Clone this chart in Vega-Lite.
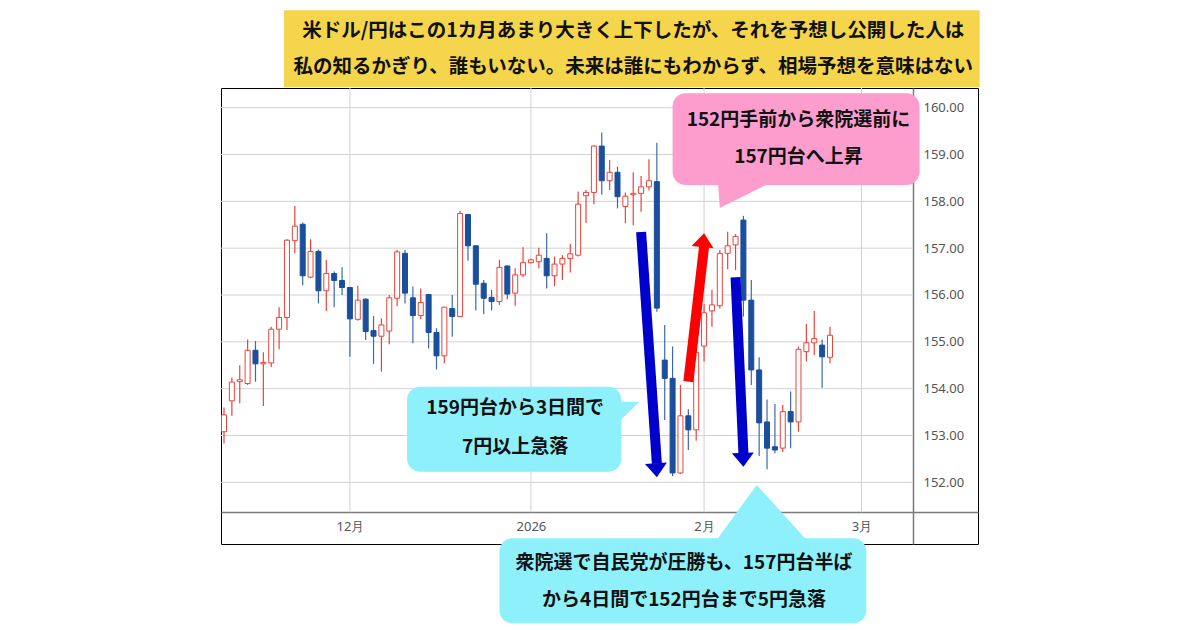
{
  "$schema": "https://vega.github.io/schema/vega-lite/v6.json",
  "width": 757,
  "height": 456,
  "autosize": {"type": "none"},
  "padding": {"left": 221, "top": 88, "right": 222, "bottom": 86},
  "background": "#ffffff",
  "config": {"view": {"stroke": "#000000", "strokeWidth": 1}},
  "datasets": {
    "candles": [
      {"date": "2025-11-07", "open": 153.08, "high": 153.60, "low": 152.83, "close": 153.44},
      {"date": "2025-11-10", "open": 153.74, "high": 154.24, "low": 153.42, "close": 154.14},
      {"date": "2025-11-11", "open": 154.15, "high": 154.50, "low": 153.69, "close": 154.19},
      {"date": "2025-11-12", "open": 154.11, "high": 155.05, "low": 154.08, "close": 154.82},
      {"date": "2025-11-13", "open": 154.82, "high": 155.02, "low": 154.15, "close": 154.53},
      {"date": "2025-11-14", "open": 154.53, "high": 154.78, "low": 153.63, "close": 154.56},
      {"date": "2025-11-17", "open": 154.55, "high": 155.32, "low": 154.46, "close": 155.27},
      {"date": "2025-11-18", "open": 155.27, "high": 155.74, "low": 154.84, "close": 155.52},
      {"date": "2025-11-19", "open": 155.52, "high": 157.19, "low": 155.25, "close": 157.17},
      {"date": "2025-11-20", "open": 157.16, "high": 157.90, "low": 156.89, "close": 157.47},
      {"date": "2025-11-21", "open": 157.51, "high": 157.55, "low": 156.21, "close": 156.41},
      {"date": "2025-11-24", "open": 156.38, "high": 157.19, "low": 156.36, "close": 156.93},
      {"date": "2025-11-25", "open": 156.93, "high": 156.97, "low": 155.82, "close": 156.09},
      {"date": "2025-11-26", "open": 156.09, "high": 156.75, "low": 155.66, "close": 156.46},
      {"date": "2025-11-27", "open": 156.46, "high": 156.50, "low": 155.74, "close": 156.31},
      {"date": "2025-11-28", "open": 156.31, "high": 156.59, "low": 156.00, "close": 156.16},
      {"date": "2025-12-01", "open": 156.16, "high": 156.17, "low": 154.68, "close": 155.49},
      {"date": "2025-12-02", "open": 155.48, "high": 156.20, "low": 155.45, "close": 155.89},
      {"date": "2025-12-03", "open": 155.91, "high": 155.93, "low": 155.04, "close": 155.22},
      {"date": "2025-12-04", "open": 155.24, "high": 155.55, "low": 154.53, "close": 155.12},
      {"date": "2025-12-05", "open": 155.12, "high": 155.50, "low": 154.36, "close": 155.36},
      {"date": "2025-12-08", "open": 155.23, "high": 156.00, "low": 154.95, "close": 155.94},
      {"date": "2025-12-09", "open": 155.93, "high": 156.96, "low": 155.76, "close": 156.92},
      {"date": "2025-12-10", "open": 156.89, "high": 156.96, "low": 155.82, "close": 156.04},
      {"date": "2025-12-11", "open": 155.94, "high": 156.18, "low": 154.97, "close": 155.56},
      {"date": "2025-12-12", "open": 155.56, "high": 156.14, "low": 155.48, "close": 155.84},
      {"date": "2025-12-15", "open": 156.01, "high": 156.02, "low": 154.86, "close": 155.20},
      {"date": "2025-12-16", "open": 155.20, "high": 155.29, "low": 154.41, "close": 154.70},
      {"date": "2025-12-17", "open": 154.70, "high": 155.75, "low": 154.54, "close": 155.74},
      {"date": "2025-12-18", "open": 155.71, "high": 156.00, "low": 155.11, "close": 155.54},
      {"date": "2025-12-19", "open": 155.54, "high": 157.80, "low": 155.53, "close": 157.74},
      {"date": "2025-12-22", "open": 157.72, "high": 157.73, "low": 156.73, "close": 157.05},
      {"date": "2025-12-23", "open": 157.05, "high": 157.06, "low": 155.67, "close": 156.23},
      {"date": "2025-12-24", "open": 156.25, "high": 156.32, "low": 155.59, "close": 155.93},
      {"date": "2025-12-25", "open": 155.95, "high": 156.11, "low": 155.67, "close": 155.86},
      {"date": "2025-12-26", "open": 155.86, "high": 156.75, "low": 155.79, "close": 156.59},
      {"date": "2025-12-29", "open": 156.62, "high": 156.63, "low": 155.91, "close": 156.02},
      {"date": "2025-12-30", "open": 156.04, "high": 156.57, "low": 155.77, "close": 156.43},
      {"date": "2025-12-31", "open": 156.43, "high": 157.02, "low": 156.38, "close": 156.69},
      {"date": "2026-01-01", "open": 156.69, "high": 156.78, "low": 156.68, "close": 156.75},
      {"date": "2026-01-02", "open": 156.71, "high": 157.01, "low": 156.57, "close": 156.85},
      {"date": "2026-01-05", "open": 156.78, "high": 157.32, "low": 156.14, "close": 156.41},
      {"date": "2026-01-06", "open": 156.41, "high": 156.82, "low": 156.19, "close": 156.66},
      {"date": "2026-01-07", "open": 156.66, "high": 156.85, "low": 156.32, "close": 156.78},
      {"date": "2026-01-08", "open": 156.78, "high": 157.09, "low": 156.48, "close": 156.88},
      {"date": "2026-01-09", "open": 156.85, "high": 158.21, "low": 156.82, "close": 157.94},
      {"date": "2026-01-12", "open": 158.12, "high": 158.24, "low": 157.54, "close": 158.19},
      {"date": "2026-01-13", "open": 158.19, "high": 159.20, "low": 157.94, "close": 159.18},
      {"date": "2026-01-14", "open": 159.18, "high": 159.47, "low": 158.14, "close": 158.44},
      {"date": "2026-01-15", "open": 158.44, "high": 158.88, "low": 158.24, "close": 158.62},
      {"date": "2026-01-16", "open": 158.62, "high": 158.74, "low": 157.85, "close": 158.10},
      {"date": "2026-01-19", "open": 157.89, "high": 158.19, "low": 157.53, "close": 158.11},
      {"date": "2026-01-20", "open": 158.14, "high": 158.62, "low": 157.49, "close": 158.17},
      {"date": "2026-01-21", "open": 158.17, "high": 158.54, "low": 157.78, "close": 158.31},
      {"date": "2026-01-22", "open": 158.31, "high": 158.90, "low": 158.23, "close": 158.44},
      {"date": "2026-01-23", "open": 158.42, "high": 159.25, "low": 155.64, "close": 155.72},
      {"date": "2026-01-26", "open": 154.61, "high": 155.36, "low": 153.33, "close": 154.22},
      {"date": "2026-01-27", "open": 154.22, "high": 154.90, "low": 152.13, "close": 152.20},
      {"date": "2026-01-28", "open": 152.20, "high": 154.08, "low": 152.18, "close": 153.42},
      {"date": "2026-01-29", "open": 153.42, "high": 153.56, "low": 152.69, "close": 153.12},
      {"date": "2026-01-30", "open": 153.12, "high": 154.79, "low": 152.89, "close": 154.77},
      {"date": "2026-02-02", "open": 154.91, "high": 155.81, "low": 154.58, "close": 155.62},
      {"date": "2026-02-03", "open": 155.66, "high": 156.11, "low": 155.32, "close": 155.79},
      {"date": "2026-02-04", "open": 155.77, "high": 156.96, "low": 155.71, "close": 156.89},
      {"date": "2026-02-05", "open": 156.89, "high": 157.35, "low": 156.55, "close": 157.05},
      {"date": "2026-02-06", "open": 157.07, "high": 157.30, "low": 156.53, "close": 157.25},
      {"date": "2026-02-09", "open": 157.60, "high": 157.69, "low": 155.54, "close": 155.89},
      {"date": "2026-02-10", "open": 155.89, "high": 156.32, "low": 154.08, "close": 154.40},
      {"date": "2026-02-11", "open": 154.40, "high": 154.67, "low": 152.56, "close": 153.27},
      {"date": "2026-02-12", "open": 153.29, "high": 153.77, "low": 152.28, "close": 152.73},
      {"date": "2026-02-13", "open": 152.76, "high": 153.67, "low": 152.62, "close": 152.69},
      {"date": "2026-02-16", "open": 152.73, "high": 153.65, "low": 152.65, "close": 153.51},
      {"date": "2026-02-17", "open": 153.51, "high": 153.94, "low": 152.73, "close": 153.29},
      {"date": "2026-02-18", "open": 153.29, "high": 154.90, "low": 153.08, "close": 154.84},
      {"date": "2026-02-19", "open": 154.79, "high": 155.38, "low": 154.58, "close": 154.98},
      {"date": "2026-02-20", "open": 154.98, "high": 155.66, "low": 154.72, "close": 155.07},
      {"date": "2026-02-23", "open": 154.93, "high": 155.05, "low": 154.02, "close": 154.68},
      {"date": "2026-02-24", "open": 154.67, "high": 155.32, "low": 154.54, "close": 155.14}
    ],
    "months": [
      {"date": "2025-12-01"}, {"date": "2026-01-01"}, {"date": "2026-02-02"}, {"date": "2026-03-02"}
    ],
    "levels": [
      {"level": 152}, {"level": 153}, {"level": 154}, {"level": 155}, {"level": 156},
      {"level": 157}, {"level": 158}, {"level": 159}, {"level": 160}
    ],
    "titleBox": [{"d1": "2025-11-19", "d2": "2026-03-20", "p1": 162.08, "p2": 160.44}],
    "titleText": [
      {"date": "2026-01-20", "price": 161.637, "label": "米ドル/円はこの1カ月あまり大きく上下したが、それを予想し公開した人は"},
      {"date": "2026-01-20", "price": 160.868, "label": "私の知るかぎり、誰もいない。未来は誰にもわからず、相場予想を意味はない"}
    ],
    "pinkBox": [{"d1": "2026-01-27", "d2": "2026-03-11", "p1": 160.307, "p2": 158.349}],
    "pinkTail": [{"date": "2026-02-04", "price": 157.857}],
    "pinkText": [
      {"date": "2026-02-18", "price": 159.734, "label": "152円手前から衆院選前に"},
      {"date": "2026-02-18", "price": 158.953, "label": "157円台へ上昇"}
    ],
    "leftBox": [{"d1": "2025-12-10", "d2": "2026-01-19", "p1": 154.042, "p2": 152.227}],
    "leftTail": [{"date": "2026-01-20", "price": 153.721}],
    "leftText": [
      {"date": "2025-12-30", "price": 153.58, "label": "159円台から3日間で"},
      {"date": "2025-12-30", "price": 152.76, "label": "7円以上急落"}
    ],
    "bottomBox": [{"d1": "2025-12-26", "d2": "2026-03-03", "p1": 150.805, "p2": 148.99}],
    "bottomTail": [{"date": "2026-02-11", "price": 151.943}],
    "bottomText": [
      {"date": "2026-01-28", "price": 150.27, "label": "衆院選で自民党が圧勝も、157円台半ば"},
      {"date": "2026-01-28", "price": 149.487, "label": "から4日間で152円台まで5円急落"}
    ],
    "arrows": [
      {"d1": "2026-01-21", "p1": 157.345, "d2": "2026-01-23", "p2": 152.40, "dir": "down"},
      {"d1": "2026-01-29", "p1": 154.15, "d2": "2026-02-02", "p2": 157.03, "dir": "up"},
      {"d1": "2026-02-06", "p1": 156.38, "d2": "2026-02-09", "p2": 152.62, "dir": "down"}
    ],
    "head1": [{"date": "2026-01-23", "price": 152.11}],
    "head2": [{"date": "2026-02-02", "price": 157.32}],
    "head3": [{"date": "2026-02-09", "price": 152.33}]
  },
  "layer": [
    {
      "data": {"name": "months"},
      "mark": {"type": "rule", "color": "#d2d2d2", "strokeWidth": 1},
      "encoding": {
        "x": {
          "field": "date", "type": "ordinal", "title": null,
          "scale": {
            "type": "point",
            "domain": ["2025-11-07","2025-11-10","2025-11-11","2025-11-12","2025-11-13","2025-11-14","2025-11-17","2025-11-18","2025-11-19","2025-11-20","2025-11-21","2025-11-24","2025-11-25","2025-11-26","2025-11-27","2025-11-28",
              "2025-12-01","2025-12-02","2025-12-03","2025-12-04","2025-12-05","2025-12-08","2025-12-09","2025-12-10","2025-12-11","2025-12-12","2025-12-15","2025-12-16","2025-12-17","2025-12-18","2025-12-19","2025-12-22","2025-12-23","2025-12-24","2025-12-25","2025-12-26","2025-12-29","2025-12-30","2025-12-31",
              "2026-01-01","2026-01-02","2026-01-05","2026-01-06","2026-01-07","2026-01-08","2026-01-09","2026-01-12","2026-01-13","2026-01-14","2026-01-15","2026-01-16","2026-01-19","2026-01-20","2026-01-21","2026-01-22","2026-01-23","2026-01-26","2026-01-27","2026-01-28","2026-01-29","2026-01-30",
              "2026-02-02","2026-02-03","2026-02-04","2026-02-05","2026-02-06","2026-02-09","2026-02-10","2026-02-11","2026-02-12","2026-02-13","2026-02-16","2026-02-17","2026-02-18","2026-02-19","2026-02-20","2026-02-23","2026-02-24","2026-02-25","2026-02-26","2026-02-27",
              "2026-03-02","2026-03-03","2026-03-04","2026-03-05","2026-03-06","2026-03-09","2026-03-10","2026-03-11","2026-03-12","2026-03-13","2026-03-16","2026-03-17","2026-03-18","2026-03-19","2026-03-20"],
            "padding": 0.594,
            "align": 0.321
          },
          "axis": {
            "orient": "bottom", "offset": -32, "title": null,
            "values": ["2025-12-01", "2026-01-01", "2026-02-02", "2026-03-02"],
            "labelExpr": "datum.value == '2026-01-01' ? '2026' : (datum.value == '2025-12-01' ? '12月' : (datum.value == '2026-02-02' ? '2月' : '3月'))",
            "ticks": false, "grid": false,
            "domainColor": "#7a7a7a", "domainWidth": 1.5,
            "labelColor": "#555555", "labelFont": "Noto Sans", "labelFontSize": 13,
            "labelPadding": 8, "labelAngle": 0
          }
        },
        "y": {
          "datum": 160.42, "type": "quantitative", "title": null,
          "scale": {"domain": [150.683, 160.42], "nice": false, "zero": false},
          "axis": {
            "orient": "right", "offset": -65, "title": null,
            "values": [152, 153, 154, 155, 156, 157, 158, 159, 160],
            "format": ".2f", "ticks": false, "grid": false,
            "domainColor": "#7a7a7a", "domainWidth": 1.5,
            "labelColor": "#555555", "labelFont": "Noto Sans", "labelFontSize": 13,
            "labelPadding": 10
          }
        },
        "y2": {"datum": 151.36}
      }
    },
    {
      "data": {"name": "levels"},
      "mark": {"type": "rule", "color": "#d2d2d2", "strokeWidth": 1, "xOffset": -3, "x2Offset": 4},
      "encoding": {
        "y": {"field": "level", "type": "quantitative", "title": null},
        "x": {"datum": "2025-11-07", "type": "ordinal", "title": null},
        "x2": {"datum": "2026-03-10"}
      }
    },
    {
      "data": {"name": "candles"},
      "mark": {"type": "rule", "strokeWidth": 1.2},
      "encoding": {
        "x": {"field": "date", "type": "ordinal", "title": null},
        "y": {"field": "low", "type": "quantitative", "title": null},
        "y2": {"field": "high"},
        "color": {"condition": {"test": "datum.close >= datum.open", "value": "#e8443a"}, "value": "#3c6aa8"}
      }
    },
    {
      "data": {"name": "candles"},
      "mark": {"type": "bar", "size": 5, "strokeWidth": 1},
      "encoding": {
        "x": {"field": "date", "type": "ordinal", "title": null},
        "y": {"field": "open", "type": "quantitative", "title": null},
        "y2": {"field": "close"},
        "fill": {"condition": {"test": "datum.close >= datum.open", "value": "#ffffff"}, "value": "#1b4f9c"},
        "stroke": {"condition": {"test": "datum.close >= datum.open", "value": "#e8443a"}, "value": "#1b4f9c"}
      }
    },
    {
      "data": {"name": "titleBox"},
      "mark": {"type": "rect", "color": "#f5d54b", "xOffset": -3, "x2Offset": 8},
      "encoding": {
        "x": {"field": "d1", "type": "ordinal", "title": null},
        "x2": {"field": "d2"},
        "y": {"field": "p1", "type": "quantitative", "title": null},
        "y2": {"field": "p2"}
      }
    },
    {
      "data": {"name": "pinkBox"},
      "mark": {"type": "rect", "color": "#fd9dce", "cornerRadius": 13, "x2Offset": 3},
      "encoding": {
        "x": {"field": "d1", "type": "ordinal", "title": null},
        "x2": {"field": "d2"},
        "y": {"field": "p1", "type": "quantitative", "title": null},
        "y2": {"field": "p2"}
      }
    },
    {
      "data": {"name": "pinkTail"},
      "mark": {"type": "point", "shape": "M0,0L-0.036,-0.5L1.004,-0.5Z", "size": 10000, "filled": true, "color": "#fd9dce", "opacity": 1, "strokeWidth": 0},
      "encoding": {
        "x": {"field": "date", "type": "ordinal", "title": null},
        "y": {"field": "price", "type": "quantitative", "title": null}
      }
    },
    {
      "data": {"name": "leftBox"},
      "mark": {"type": "rect", "color": "#8ef0fb", "cornerRadius": 13, "xOffset": 2, "x2Offset": -4},
      "encoding": {
        "x": {"field": "d1", "type": "ordinal", "title": null},
        "x2": {"field": "d2"},
        "y": {"field": "p1", "type": "quantitative", "title": null},
        "y2": {"field": "p2"}
      }
    },
    {
      "data": {"name": "leftTail"},
      "mark": {"type": "point", "shape": "M-0.29,0L0.122,0L-0.29,0.4Z", "size": 10000, "filled": true, "color": "#8ef0fb", "opacity": 1, "strokeWidth": 0},
      "encoding": {
        "x": {"field": "date", "type": "ordinal", "title": null},
        "y": {"field": "price", "type": "quantitative", "title": null}
      }
    },
    {
      "data": {"name": "bottomBox"},
      "mark": {"type": "rect", "color": "#8ef0fb", "cornerRadius": 13, "x2Offset": -3},
      "encoding": {
        "x": {"field": "d1", "type": "ordinal", "title": null},
        "x2": {"field": "d2"},
        "y": {"field": "p1", "type": "quantitative", "title": null},
        "y2": {"field": "p2"}
      }
    },
    {
      "data": {"name": "bottomTail"},
      "mark": {"type": "point", "shape": "M-0.05,0L-0.85,1.1L0.95,1.1Z", "size": 10000, "filled": true, "color": "#8ef0fb", "opacity": 1, "strokeWidth": 0},
      "encoding": {
        "x": {"field": "date", "type": "ordinal", "title": null},
        "y": {"field": "price", "type": "quantitative", "title": null}
      }
    },
    {
      "data": {"name": "arrows"},
      "mark": {"type": "rule", "strokeWidth": 10},
      "encoding": {
        "x": {"field": "d1", "type": "ordinal", "title": null},
        "x2": {"field": "d2"},
        "y": {"field": "p1", "type": "quantitative", "title": null},
        "y2": {"field": "p2"},
        "color": {"condition": {"test": "datum.dir == 'up'", "value": "#ff0000"}, "value": "#0000cd"}
      }
    },
    {
      "data": {"name": "head1"},
      "mark": {"type": "point", "shape": "M0,0L-1,-1.27L1,-1.27Z", "size": 484, "filled": true, "color": "#0000cd", "opacity": 1, "strokeWidth": 0, "angle": -3.7},
      "encoding": {
        "x": {"field": "date", "type": "ordinal", "title": null},
        "y": {"field": "price", "type": "quantitative", "title": null}
      }
    },
    {
      "data": {"name": "head2"},
      "mark": {"type": "point", "shape": "M0,0L-1,-1.27L1,-1.27Z", "size": 484, "filled": true, "color": "#ff0000", "opacity": 1, "strokeWidth": 0, "angle": 186.1},
      "encoding": {
        "x": {"field": "date", "type": "ordinal", "title": null},
        "y": {"field": "price", "type": "quantitative", "title": null}
      }
    },
    {
      "data": {"name": "head3"},
      "mark": {"type": "point", "shape": "M0,0L-1,-1.27L1,-1.27Z", "size": 484, "filled": true, "color": "#0000cd", "opacity": 1, "strokeWidth": 0, "angle": -2.4},
      "encoding": {
        "x": {"field": "date", "type": "ordinal", "title": null},
        "y": {"field": "price", "type": "quantitative", "title": null}
      }
    },
    {
      "data": {"name": "titleText"},
      "mark": {"type": "text", "font": "Noto Sans CJK JP", "fontWeight": "bold", "fontSize": 19.5, "color": "#111111", "align": "center", "baseline": "middle"},
      "encoding": {
        "x": {"field": "date", "type": "ordinal", "title": null},
        "y": {"field": "price", "type": "quantitative", "title": null},
        "text": {"field": "label"}
      }
    },
    {
      "data": {"name": "pinkText"},
      "mark": {"type": "text", "font": "Noto Sans CJK JP", "fontWeight": "bold", "fontSize": 19, "color": "#111111", "align": "center", "baseline": "middle"},
      "encoding": {
        "x": {"field": "date", "type": "ordinal", "title": null},
        "y": {"field": "price", "type": "quantitative", "title": null},
        "text": {"field": "label"}
      }
    },
    {
      "data": {"name": "leftText"},
      "mark": {"type": "text", "font": "Noto Sans CJK JP", "fontWeight": "bold", "fontSize": 19, "color": "#111111", "align": "center", "baseline": "middle"},
      "encoding": {
        "x": {"field": "date", "type": "ordinal", "title": null},
        "y": {"field": "price", "type": "quantitative", "title": null},
        "text": {"field": "label"}
      }
    },
    {
      "data": {"name": "bottomText"},
      "mark": {"type": "text", "font": "Noto Sans CJK JP", "fontWeight": "bold", "fontSize": 19, "color": "#111111", "align": "center", "baseline": "middle", "dx": 3.5},
      "encoding": {
        "x": {"field": "date", "type": "ordinal", "title": null},
        "y": {"field": "price", "type": "quantitative", "title": null},
        "text": {"field": "label"}
      }
    }
  ]
}
